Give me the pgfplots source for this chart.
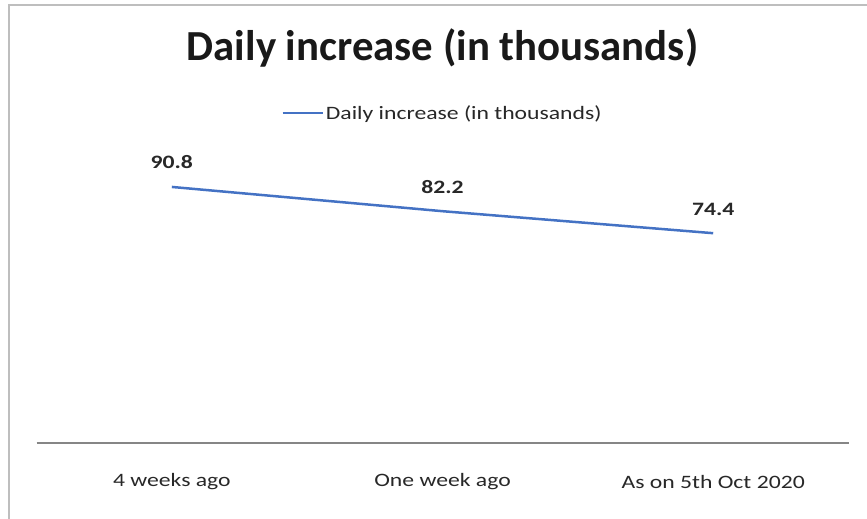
\documentclass[border=0pt]{standalone}
\usepackage{fontspec}
\setmainfont{Carlito}
\newfontfamily\stretched{Carlito}[FakeStretch=1.25]
\usepackage{pgfplots}
\pgfplotsset{compat=1.18}
\definecolor{lineblue}{RGB}{68,114,196}
\definecolor{axisgray}{RGB}{134,134,134}
\definecolor{framegray}{RGB}{190,190,190}
\definecolor{txt}{RGB}{40,40,40}
\begin{document}
\begin{tikzpicture}
\useasboundingbox (0,0) rectangle (867bp,519bp);
\fill[white] (0,0) rectangle (867bp,519bp);
\draw[framegray,line width=2bp] (9bp,0) -- (9bp,514bp) -- (867bp,514bp);
\begin{axis}[
  at={(36.5bp,76bp)}, anchor=south west,
  scale only axis, width=812bp, height=282bp,
  xmin=-0.5, xmax=2.5, ymin=0, ymax=100,
  axis x line=bottom, axis y line=none,
  x axis line style={axisgray, line width=1.5bp, -},
  xtick={0,1,2},
  xticklabels={4 weeks ago, One week ago, As on 5th Oct 2020},
  major tick length=0pt,
  xticklabel style={font=\stretched\fontsize{19}{19}\selectfont, text=txt, anchor=center, yshift=-39bp},
  ytick=\empty,
  title={Daily increase (in thousands)},
  title style={at={(0.5,1)}, anchor=center, yshift=107bp, font=\bfseries\fontsize{43}{43}\selectfont, text=black!90},
  legend style={at={(0.5,1)}, anchor=center, yshift=48bp, draw=none, fill=none, font=\stretched\fontsize{19}{19}\selectfont, text=txt},
  legend image code/.code={\draw[#1] (0bp,0bp) -- (40bp,0bp);},
  clip=false,
]
\addplot[lineblue, line width=2.5bp, mark=none,
  nodes near coords, point meta=explicit symbolic,
  nodes near coords align={anchor=base},
  every node near coord/.append style={font=\stretched\bfseries\fontsize{19}{19}\selectfont, text=txt, yshift=18bp}]
  coordinates {(0,90.8) [90.8] (1,82.2) [82.2] (2,74.4) [74.4]};
\addlegendentry{Daily increase (in thousands)}
\end{axis}
\end{tikzpicture}
\end{document}
